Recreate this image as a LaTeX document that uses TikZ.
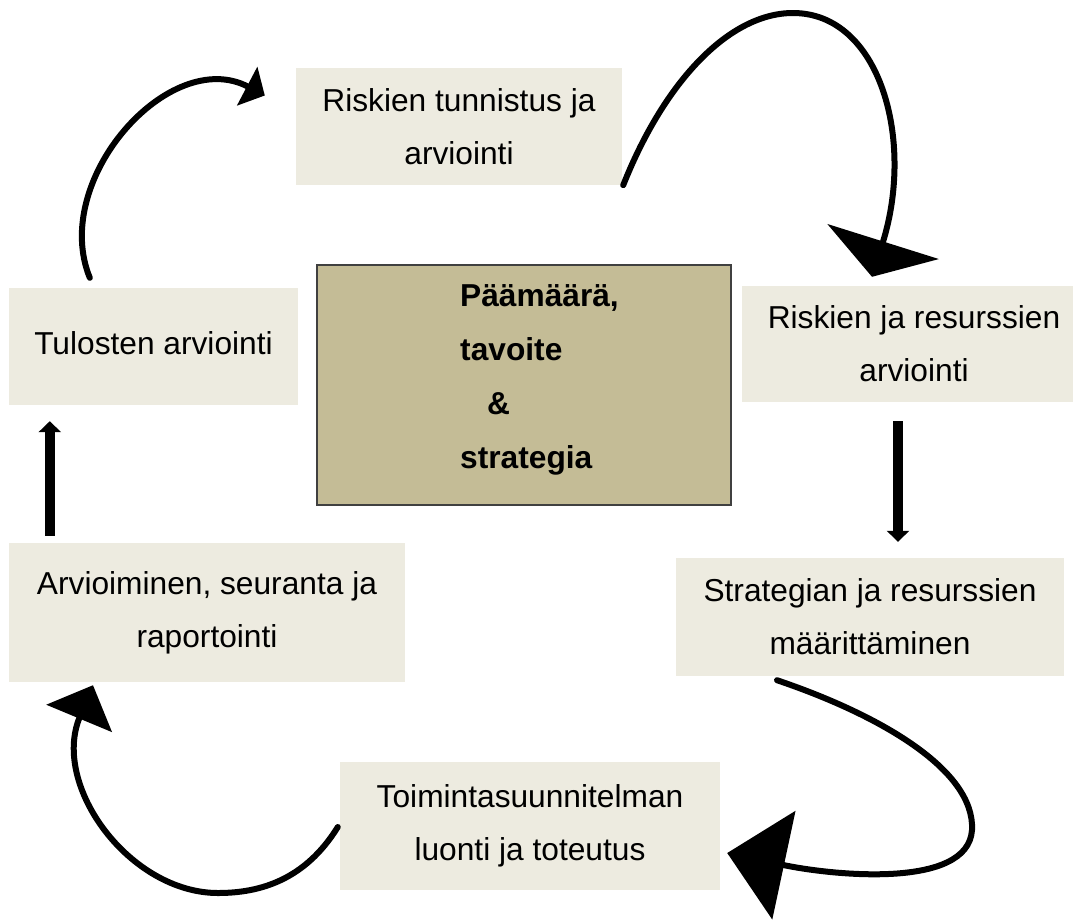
\documentclass[tikz,border=0pt]{standalone}
\usepackage{fontspec}
\setmainfont{Liberation Sans}
\usetikzlibrary{arrows.meta,positioning}
\definecolor{boxfill}{RGB}{237,235,224}
\definecolor{goalfill}{RGB}{196,188,150}
\definecolor{goalline}{RGB}{64,64,64}

\begin{document}
\begin{tikzpicture}
[x=1pt,y=-1pt,
every node/.style={font=\fontsize{31.7}{53}\selectfont},
stage/.style={fill=boxfill,inner sep=0pt,align=center},
goalbox/.style={fill=goalfill,draw=goalline,line width=1.5pt,inner sep=0pt},
loopline/.style={draw,line width=6pt,line cap=round},
straight/.style={draw,line width=10pt,-{Triangle[length=11pt,width=22pt]}}]
\useasboundingbox (0,0) rectangle (1073,919);

\node[stage,minimum width=326pt,minimum height=117pt] (risktun) at (459,126.5) {Riskien tunnistus ja\\arviointi};
\node[stage,minimum width=344pt,minimum height=116pt] (riskres) at (914,344) {Riskien ja resurssien\\arviointi};
\node[stage,minimum width=388pt,minimum height=118pt] (strat) at (870,617) {Strategian ja resurssien\\määrittäminen};
\node[stage,minimum width=380pt,minimum height=128pt] (toim) at (530,826) {Toimintasuunnitelman\\luonti ja toteutus};
\node[stage,minimum width=396pt,minimum height=139pt] (arvio) at (207,612.5) {Arvioiminen, seuranta ja\\raportointi};
\node[stage,minimum width=289pt,minimum height=117pt] (tulos) at (153.5,346.5) {\raisebox{6pt}{Tulosten arviointi}};

\node[goalbox,minimum width=414pt,minimum height=240pt] (goal) at (524,385) {};
\node[anchor=north west,inner sep=0pt,align=left,font=\bfseries\fontsize{31.7}{54}\selectfont] (goaltext) at (460,284) {Päämäärä,\\tavoite\\\hspace*{27pt}\&\\strategia};

% kierto
\draw[loopline,-{Triangle[length=20pt,width=43pt]}] ([xshift=81pt,yshift=10pt]tulos.north west) .. controls +(-40,-98) and +(-95,-50) .. ([xshift=-31pt,yshift=31pt]risktun.west);
\draw[loopline,-{Triangle[length=37pt,width=116pt]}] ([xshift=1pt]risktun.south east) .. controls (665,80) and (730,13) .. (793,13) .. controls (880,13) and (915,140) .. ([xshift=-42pt,yshift=9pt]riskres.north);
\draw[straight] ([xshift=-16pt,yshift=-19pt]riskres.south) -- ([xshift=28pt,yshift=16pt]strat.north);
\draw[loopline,-{Triangle[length=58pt,width=110pt]}] ([xshift=-93pt,yshift=-4pt]strat.south) .. controls (880,715) and (975,770) .. (972,830) .. controls (968,890) and (830,875) .. ([xshift=7pt,yshift=-27pt]toim.east);
\draw[loopline,-{Triangle[length=36pt,width=70pt]}] ([xshift=-2pt,yshift=-1pt]toim.west) .. controls (305,880) and (260,893) .. (218,893) .. controls (130,893) and (51,786) .. ([xshift=-114pt,yshift=-3pt]arvio.south);
\draw[straight] ([xshift=41pt,yshift=7pt]arvio.north west) -- ([xshift=41pt,yshift=-16pt]tulos.south west);
\end{tikzpicture}
\end{document}
